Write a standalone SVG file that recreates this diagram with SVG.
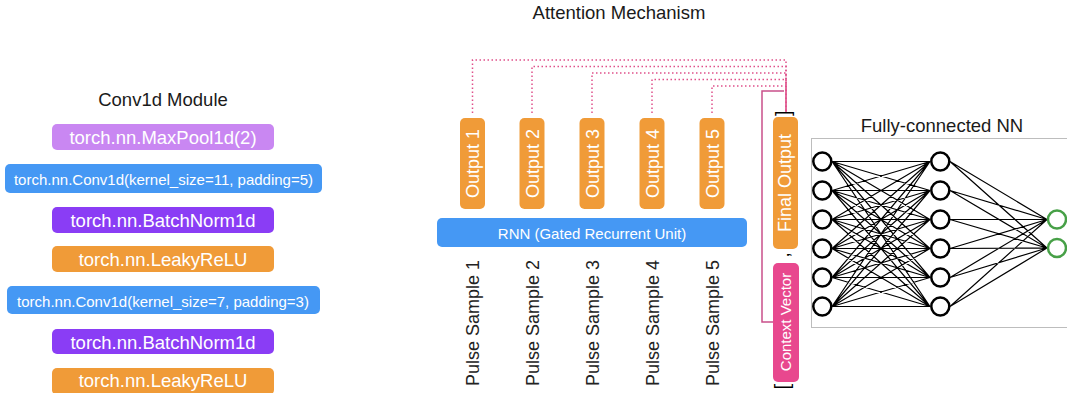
<svg xmlns="http://www.w3.org/2000/svg" width="1067" height="393" viewBox="0 0 1067 393">
<style>
text{font-family:"Liberation Sans",Arial,sans-serif}
.t{fill:#1a1a1a;font-size:18.5px;text-anchor:middle}
.w{fill:#ffffff;text-anchor:middle}
.lg{font-size:18.5px}
.sm{font-size:15px}
.vt{font-size:18px}
.ps{fill:#222;font-size:18px}
.dot{fill:none;stroke:#E0508A;stroke-width:1.5;stroke-dasharray:1.5 2.5}
.nn{fill:#fff;stroke:#000;stroke-width:2.5}
.gn{fill:#fff;stroke:#47A047;stroke-width:2.5}
.orange{fill:#F09B38}
.blue{fill:#4598F4}
.purple{fill:#8A3DF5}
.lilac{fill:#C987F2}
.pink{fill:#E8488E}
</style>
<rect width="1067" height="393" fill="#fff"/>

<text class="t" x="163" y="105.5">Conv1d Module</text>
<text class="t" x="619" y="19">Attention Mechanism</text>
<text class="t" x="942" y="131.5">Fully-connected NN</text>

<g id="conv-module">
<g id="maxpool"><rect class="lilac" x="52" y="124" width="222" height="26" rx="5"/><text class="w lg" x="163" y="144">torch.nn.MaxPool1d(2)</text></g>
<g id="conv1"><rect class="blue" x="5" y="164" width="317" height="29" rx="5"/><text class="w sm" x="163.5" y="185">torch.nn.Conv1d(kernel_size=11, padding=5)</text></g>
<g id="bn1"><rect class="purple" x="52" y="207" width="222" height="26" rx="5"/><text class="w lg" x="163" y="226.5">torch.nn.BatchNorm1d</text></g>
<g id="relu1"><rect class="orange" x="52" y="246" width="222" height="26" rx="5"/><text class="w lg" x="163" y="265.5">torch.nn.LeakyReLU</text></g>
<g id="conv2"><rect class="blue" x="7" y="286" width="313" height="28" rx="5"/><text class="w sm" x="163" y="306.5">torch.nn.Conv1d(kernel_size=7, padding=3)</text></g>
<g id="bn2"><rect class="purple" x="52" y="329" width="222" height="25" rx="5"/><text class="w lg" x="163" y="348.5">torch.nn.BatchNorm1d</text></g>
<g id="relu2"><rect class="orange" x="52" y="368" width="222" height="27" rx="5"/><text class="w lg" x="163" y="387">torch.nn.LeakyReLU</text></g>
</g>

<g id="connectors">
<path class="dot" d="M472.5 113V60H786V112"/>
<path class="dot" d="M532 113V66.5H786V112"/>
<path class="dot" d="M592 113V73H786V112"/>
<path class="dot" d="M652 113V79.5H786V112"/>
<path class="dot" d="M712 113V86H786V112"/>
<path d="M784 91H762V322H773" fill="none" stroke="#C9508A" stroke-width="1.5"/>
<path fill="none" stroke="#000" stroke-width="1.2" d="M832 161.5L930 161.5M832 161.5L930 190.5M832 161.5L930 219.5M832 161.5L930 248.5M832 161.5L930 277.5M832 161.5L930 306.5M832 190.5L930 161.5M832 190.5L930 190.5M832 190.5L930 219.5M832 190.5L930 248.5M832 190.5L930 277.5M832 190.5L930 306.5M832 219.5L930 161.5M832 219.5L930 190.5M832 219.5L930 219.5M832 219.5L930 248.5M832 219.5L930 277.5M832 219.5L930 306.5M832 248.5L930 161.5M832 248.5L930 190.5M832 248.5L930 219.5M832 248.5L930 248.5M832 248.5L930 277.5M832 248.5L930 306.5M832 277.5L930 161.5M832 277.5L930 190.5M832 277.5L930 219.5M832 277.5L930 248.5M832 277.5L930 277.5M832 277.5L930 306.5M832 306.5L930 161.5M832 306.5L930 190.5M832 306.5L930 219.5M832 306.5L930 248.5M832 306.5L930 277.5M832 306.5L930 306.5M950 161.5L1047 219.5M950 161.5L1047 248M950 190.5L1047 219.5M950 190.5L1047 248M950 219.5L1047 219.5M950 219.5L1047 248M950 248.5L1047 219.5M950 248.5L1047 248M950 277.5L1047 219.5M950 277.5L1047 248M950 306.5L1047 219.5M950 306.5L1047 248"/>
</g>

<g id="output1"><rect class="orange" x="460" y="118" width="25" height="91" rx="5"/><text class="w vt" transform="translate(479 163.5) rotate(-90)">Output 1</text></g>
<g id="output2"><rect class="orange" x="519.5" y="118" width="25" height="91" rx="5"/><text class="w vt" transform="translate(538.5 163.5) rotate(-90)">Output 2</text></g>
<g id="output3"><rect class="orange" x="579.5" y="118" width="25" height="91" rx="5"/><text class="w vt" transform="translate(598.5 163.5) rotate(-90)">Output 3</text></g>
<g id="output4"><rect class="orange" x="639.5" y="118" width="25" height="91" rx="5"/><text class="w vt" transform="translate(658.5 163.5) rotate(-90)">Output 4</text></g>
<g id="output5"><rect class="orange" x="699.5" y="118" width="25" height="91" rx="5"/><text class="w vt" transform="translate(718.5 163.5) rotate(-90)">Output 5</text></g>

<g id="rnn"><rect class="blue" x="437" y="218" width="310" height="29" rx="5"/><text class="w sm" x="592" y="238.5">RNN (Gated Recurrent Unit)</text></g>

<g id="pulse-samples">
<text class="ps" transform="translate(478.5 386) rotate(-90)">Pulse Sample 1</text>
<text class="ps" transform="translate(538.5 386) rotate(-90)">Pulse Sample 2</text>
<text class="ps" transform="translate(598.5 386) rotate(-90)">Pulse Sample 3</text>
<text class="ps" transform="translate(658.5 386) rotate(-90)">Pulse Sample 4</text>
<text class="ps" transform="translate(718.5 386) rotate(-90)">Pulse Sample 5</text>
</g>

<g id="final-output"><rect class="orange" x="773" y="117" width="25" height="132" rx="5"/><text class="w vt" transform="translate(791 183) rotate(-90)">Final Output</text></g>
<g id="context-vector"><rect class="pink" x="773" y="263" width="26" height="119" rx="5"/><text class="w sm" transform="translate(791 322) rotate(-90)">Context Vector</text></g>
<g id="brackets" fill="#000">
<text font-size="20" transform="translate(790 116) rotate(-90)">]</text>
<text font-size="18" transform="translate(789 257.5) rotate(-90)">,</text>
<text font-size="20" transform="translate(789 389.5) rotate(-90)">[</text>
</g>

<g id="fc-nn">
<rect x="811.5" y="138.5" width="300" height="189" fill="none" stroke="#BDBDBD" stroke-width="1"/>
</g>
<g id="nn-layer1">
<circle class="nn" cx="822.3" cy="161.5" r="9"/><circle class="nn" cx="822.3" cy="190.5" r="9"/><circle class="nn" cx="822.3" cy="219.5" r="9"/><circle class="nn" cx="822.3" cy="248.5" r="9"/><circle class="nn" cx="822.3" cy="277.5" r="9"/><circle class="nn" cx="822.3" cy="306.5" r="9"/>
</g>
<g id="nn-layer2">
<circle class="nn" cx="940.3" cy="161.5" r="9"/><circle class="nn" cx="940.3" cy="190.5" r="9"/><circle class="nn" cx="940.3" cy="219.5" r="9"/><circle class="nn" cx="940.3" cy="248.5" r="9"/><circle class="nn" cx="940.3" cy="277.5" r="9"/><circle class="nn" cx="940.3" cy="306.5" r="9"/>
</g>
<g id="nn-output">
<circle class="gn" cx="1057" cy="219.5" r="9"/><circle class="gn" cx="1057" cy="248" r="9"/>
</g>
</svg>
